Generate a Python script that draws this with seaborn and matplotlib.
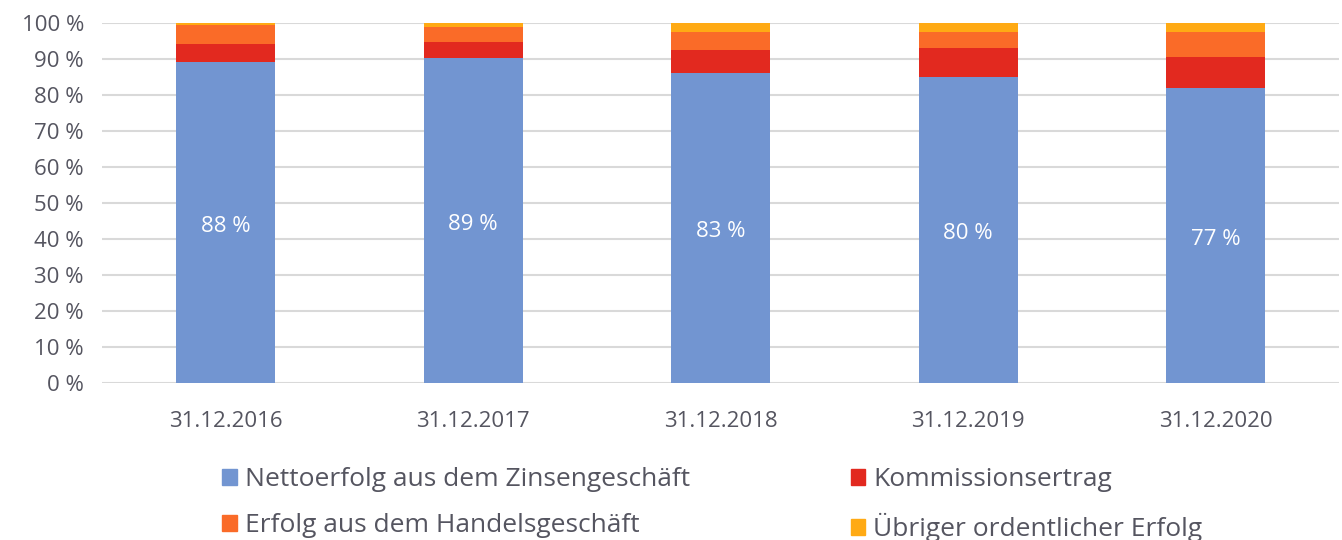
import matplotlib
matplotlib.use("Agg")
import matplotlib.pyplot as plt
import seaborn as sns
import numpy as np
import pandas as pd
from matplotlib.patches import Patch

# Werte (Anteile in %)
dates = ['31.12.2016', '31.12.2017', '31.12.2018', '31.12.2019', '31.12.2020']
netto = [89.1, 90.2, 86.2, 85.0, 82.0]
kommission = [5.0, 4.5, 6.2, 8.1, 8.6]
handel = [5.4, 4.3, 5.0, 4.5, 6.9]
uebriger = [0.5, 1.0, 2.6, 2.4, 2.5]
bar_labels = ['88 %', '89 %', '83 %', '80 %', '77 %']

series_names = ['Nettoerfolg aus dem Zinsengeschäft', 'Kommissionsertrag',
                'Erfolg aus dem Handelsgeschäft', 'Übriger ordentlicher Erfolg']
colors = ['#7295D1', '#E2291F', '#FA6B28', '#FFAA14']

sns.set_style('white')
plt.rcParams['font.family'] = ['Open Sans', 'DejaVu Sans']
text_col = '#555560'

fig = plt.figure(figsize=(13.42, 5.4), dpi=100)
ax = fig.add_axes([0.076, 0.2907, 0.922, 0.6667])

df = pd.DataFrame({'date': dates, 'netto': netto, 'kommission': kommission,
                   'handel': handel, 'uebriger': uebriger})
bottom = np.zeros(len(dates))
for col, name, c in zip(['netto', 'kommission', 'handel', 'uebriger'], series_names, colors):
    sns.barplot(data=df, x='date', y=col, bottom=bottom, color=c, saturation=1,
                width=0.4, errorbar=None, ax=ax, zorder=3, linewidth=0)
    bottom = bottom + df[col].values

for i, (v, lab) in enumerate(zip(netto, bar_labels)):
    ax.text(i, v / 2 - 1, lab, ha='center', va='center', color='white', fontsize=16, zorder=4)

ax.set_ylim(0, 100)
ax.set_xlim(-0.5, len(dates) - 0.5)
ax.set_yticks(np.arange(0, 101, 10))
ax.set_yticklabels([f'{t} %' for t in range(0, 101, 10)])
ax.yaxis.grid(True, color='#d9d9d9', linewidth=1.5, zorder=0)
ax.set_axisbelow(True)
for s in ax.spines.values():
    s.set_visible(False)
ax.tick_params(axis='both', length=0, labelsize=16, colors=text_col)
ax.tick_params(axis='x', pad=20)
ax.tick_params(axis='y', pad=13)
ax.set_xlabel('')
ax.set_ylabel('')

handles = [Patch(color=c) for c in colors]
order = [0, 2, 1, 3]
fig.legend([handles[i] for i in order], [series_names[i] for i in order],
           ncol=2, frameon=False, loc='lower left', bbox_to_anchor=(0.148, -0.048),
           fontsize=19, labelcolor=text_col, handlelength=0.55, handleheight=0.55,
           handletextpad=0.3, columnspacing=6.1, labelspacing=0.8)

fig.savefig('out.png', dpi=100)
